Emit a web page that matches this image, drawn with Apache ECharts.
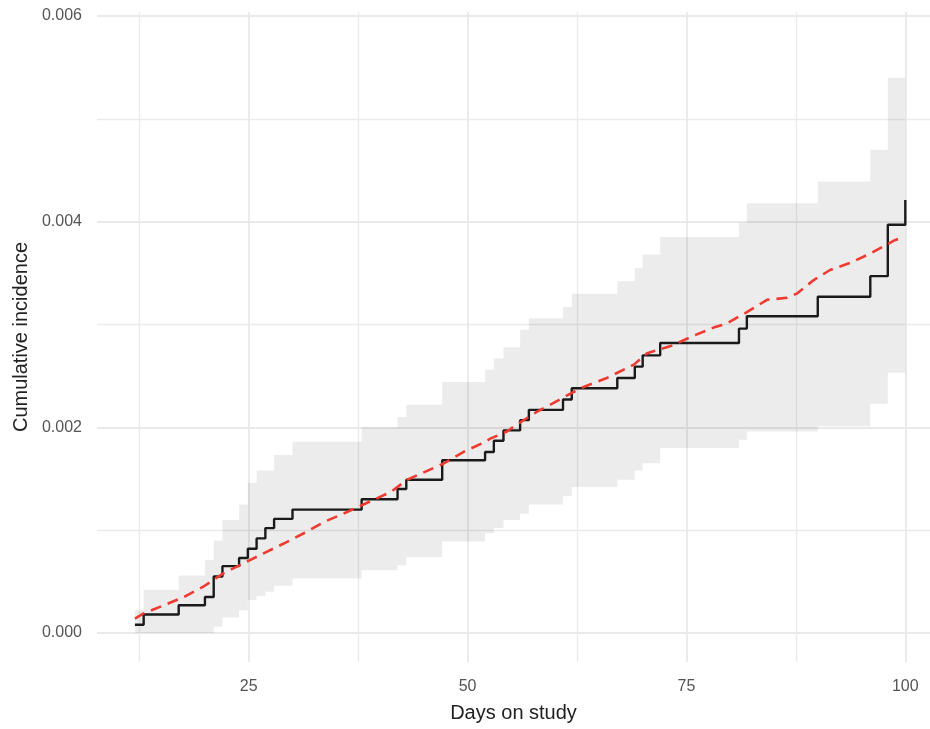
<!DOCTYPE html>
<html>
<head>
<meta charset="utf-8">
<script src="https://cdn.jsdelivr.net/npm/echarts@6/dist/echarts.min.js"></script>
<style>html,body{margin:0;padding:0;background:#fff}#c{width:930px;height:729px}</style>
</head>
<body>
<div id="c"></div>
<script>
// Event days (steps of the observed curve and of its confidence band)
const stepDays = [12.0, 13.0, 17.0, 20.0, 21.0, 22.0, 23.9, 24.9, 25.9, 26.9, 27.9, 30.0, 37.9, 42.0, 43.0, 47.1, 52.0, 53.0, 54.1, 56.0, 57.0, 60.9, 61.9, 67.1, 69.1, 70.0, 72.0, 81.0, 81.9, 90.0, 96.0, 98.0, 100.0];
// Observed cumulative incidence (black step line)
const observedIncidence = [0.00008, 0.00018, 0.00027, 0.00035, 0.00055, 0.00065, 0.00073, 0.00082, 0.00092, 0.00102, 0.00111, 0.00120, 0.00130, 0.00140, 0.00149, 0.00168, 0.00176, 0.00187, 0.00197, 0.00207, 0.00217, 0.00227, 0.00238, 0.00248, 0.00259, 0.00270, 0.00282, 0.00296, 0.00308, 0.00327, 0.00347, 0.00397, 0.00421];
// Confidence band (grey ribbon)
const bandLower = [0, 0, 0, 0, 0.00006, 0.00015, 0.00022, 0.00032, 0.00036, 0.00040, 0.00046, 0.00053, 0.00061, 0.00066, 0.00074, 0.00089, 0.00097, 0.00102, 0.00110, 0.00116, 0.00125, 0.00133, 0.00142, 0.00149, 0.00158, 0.00165, 0.00180, 0.00188, 0.00196, 0.00201, 0.00223, 0.00253, 0.00253];
const bandUpper = [0.00022, 0.00042, 0.00056, 0.00071, 0.00090, 0.00110, 0.00125, 0.00146, 0.00158, 0.00158, 0.00173, 0.00186, 0.00200, 0.00210, 0.00222, 0.00244, 0.00256, 0.00267, 0.00278, 0.00295, 0.00306, 0.00317, 0.00330, 0.00342, 0.00355, 0.00368, 0.00385, 0.00399, 0.00418, 0.00439, 0.00470, 0.00540, 0.00540];
// Fitted (expected) cumulative incidence (red dashed line)
const fitDays = [12.0, 13.0, 17.6, 19.8, 22.1, 24.0, 26.7, 29.0, 31.3, 33.6, 35.8, 38.1, 41.2, 43.1, 47.3, 49.5, 51.8, 52.6, 54.5, 55.3, 57.9, 62.9, 65.9, 69.0, 70.5, 73.2, 75.8, 78.1, 79.6, 81.9, 84.2, 86.5, 87.6, 89.5, 91.4, 93.7, 96.0, 98.8, 99.7];
const fitIncidence = [0.00014, 0.00019, 0.00035, 0.00045, 0.00058, 0.00066, 0.000775, 0.00087, 0.00097, 0.00108, 0.00116, 0.00125, 0.00137, 0.00149, 0.00165, 0.00176, 0.00185, 0.00189, 0.00196, 0.00201, 0.00215, 0.00238, 0.00248, 0.00261, 0.00272, 0.00279, 0.00289, 0.00297, 0.00301, 0.00312, 0.00324, 0.00326, 0.00330, 0.00343, 0.00353, 0.00360, 0.00369, 0.00382, 0.00385];
// Tick positions
const xMajorTicks = [25, 50, 75, 100];
const xMinorTicks = [12.5, 37.5, 62.5, 87.5];
const yMajorTicks = [0, 0.002, 0.004, 0.006];
const yMinorTicks = [0.001, 0.003, 0.005];

const X_MIN = 7.67, X_MAX = 102.82, Y_MIN = -0.000282, Y_MAX = 0.006039;
const FONT = "'Liberation Sans', Arial, Helvetica, sans-serif";

const zip = (a, b) => a.map((v, i) => [v, b[i]]);
const bandData = stepDays.map((d, i) => [d, bandLower[i], bandUpper[i]]);

function renderBand(params, api) {
  if (params.dataIndex !== 0) return null;
  const n = bandData.length;
  const top = [], bottom = [];
  for (let i = 0; i < n; i++) {
    const x0 = bandData[i][0];
    const x1 = i < n - 1 ? bandData[i + 1][0] : bandData[i][0];
    top.push(api.coord([x0, bandData[i][2]]));
    top.push(api.coord([x1, bandData[i][2]]));
    bottom.push(api.coord([x0, bandData[i][1]]));
    bottom.push(api.coord([x1, bandData[i][1]]));
  }
  const pts = top.concat(bottom.reverse());
  return {
    type: 'polygon',
    shape: {points: pts},
    style: {fill: 'rgba(0,0,0,0.075)', stroke: null},
    silent: true
  };
}

const chart = echarts.init(document.getElementById('c'), null, {renderer: 'canvas'});
chart.setOption({
  animation: false,
  backgroundColor: '#ffffff',
  grid: {left: 97, top: 12, right: 0, height: 650, containLabel: false},
  xAxis: [
    {
      type: 'value', min: X_MIN, max: X_MAX,
      axisLine: {show: false},
      axisTick: {show: false, customValues: xMajorTicks},
      axisLabel: {customValues: xMajorTicks, fontSize: 16, color: '#555555', margin: 17, fontFamily: FONT},
      splitLine: {show: true, lineStyle: {color: '#e9e9e9', width: 1.8}},
      name: 'Days on study', nameLocation: 'middle', nameGap: 41,
      nameTextStyle: {fontSize: 20, color: '#222222', fontFamily: FONT}
    },
    {
      type: 'value', min: X_MIN, max: X_MAX, position: 'bottom',
      axisLine: {show: false},
      axisTick: {show: false, customValues: xMinorTicks},
      axisLabel: {show: false},
      splitLine: {show: true, lineStyle: {color: '#ebebeb', width: 1.4}}
    }
  ],
  yAxis: [
    {
      type: 'value', min: Y_MIN, max: Y_MAX,
      axisLine: {show: false},
      axisTick: {show: false, customValues: yMajorTicks},
      axisLabel: {customValues: yMajorTicks, fontSize: 16, color: '#555555', margin: 15, fontFamily: FONT,
                  formatter: v => Number(v).toFixed(3)},
      splitLine: {show: true, lineStyle: {color: '#e9e9e9', width: 1.8}},
      name: 'Cumulative incidence', nameLocation: 'middle', nameGap: 66, nameRotate: 90,
      nameTextStyle: {fontSize: 20, color: '#222222', fontFamily: FONT}
    },
    {
      type: 'value', min: Y_MIN, max: Y_MAX, position: 'left',
      axisLine: {show: false},
      axisTick: {show: false, customValues: yMinorTicks},
      axisLabel: {show: false},
      splitLine: {show: true, lineStyle: {color: '#ebebeb', width: 1.4}}
    }
  ],
  series: [
    {
      type: 'custom', name: 'band', data: bandData, renderItem: renderBand,
      encode: {x: 0, y: [1, 2]}, silent: true, z: 1, clip: true
    },
    {
      type: 'line', name: 'observed', data: zip(stepDays, observedIncidence), step: 'end',
      symbol: 'none', lineStyle: {color: '#1a1a1a', width: 2.4}, z: 3
    },
    {
      type: 'line', name: 'expected', data: zip(fitDays, fitIncidence), smooth: false,
      symbol: 'none', lineStyle: {color: '#ee3a30', width: 2.6, type: [11, 7]}, z: 4
    }
  ]
});
</script>
</body>
</html>
